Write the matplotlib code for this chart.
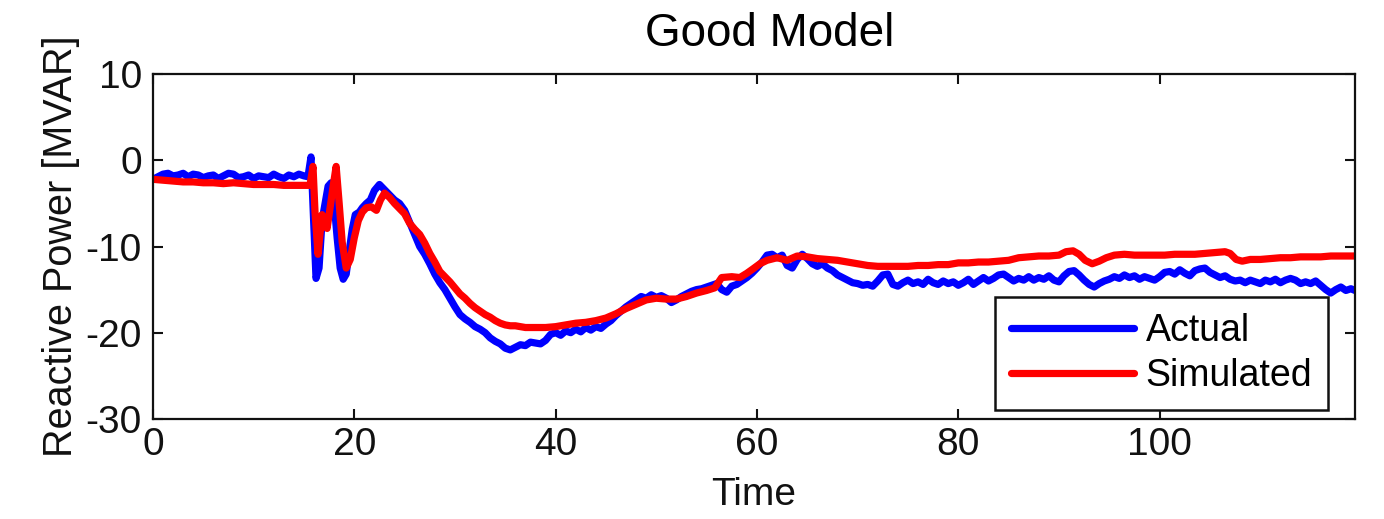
import numpy as np
import matplotlib
matplotlib.use("Agg")
import matplotlib.pyplot as plt

# Actual (measured) reactive power
t_actual = [0, 0.5, 1, 1.5, 2, 2.5, 3, 3.5, 4, 4.5, 5, 5.5, 6, 6.5, 7, 7.5, 8, 8.5, 9, 9.5,
            10, 10.5, 11, 11.5, 12, 12.5, 13, 13.5, 14, 14.5, 15, 15.4,
            15.7, 16.0, 16.2, 16.5, 16.8, 17.1, 17.4, 17.7, 18.0, 18.3, 18.6, 18.9, 19.2, 19.5, 19.8,
            20.1, 20.5, 20.8, 21.2, 21.6, 22.0, 22.5, 23.0, 23.5, 24.0, 24.5, 25.0, 25.5, 26.0, 26.5,
            27.0, 27.5, 28.0, 28.5, 29.0, 29.5, 30.0, 30.5, 31.0, 31.5, 32.0, 32.5, 33.0, 33.5, 34.0,
            34.5, 35.0, 35.5, 36.0, 36.5, 37.0, 37.5, 38.0, 38.5, 39.0, 39.5, 40.0, 40.5, 41.0, 41.5,
            42.0, 42.5, 43.0, 43.5, 44.0, 44.5, 45.0, 45.5, 46.0, 46.5, 47.0, 47.5, 48.0, 48.5, 49.0,
            49.5, 50.0, 50.5, 51.0, 51.5, 52.0, 52.5, 53.0, 53.5, 54.0, 54.5, 55.0, 55.5, 56.0, 56.5,
            57.0, 57.5, 58.0, 58.5, 59.0, 59.5, 60.0, 60.5, 61.0, 61.5, 62.0, 62.5, 63.0, 63.5, 64.0,
            64.5, 65.0, 65.5, 66.0, 66.5, 67.0, 67.5, 68.0, 68.5, 69.0, 69.5, 70.0, 70.5, 71.0, 71.5,
            72.0, 72.5, 73.0, 73.5, 74.0, 74.5, 75.0, 75.5, 76.0, 76.5, 77.0, 77.5, 78.0, 78.5, 79.0,
            79.5, 80.0, 80.5, 81.0, 81.5, 82.0, 82.5, 83.0, 83.5, 84.0, 84.5, 85.0, 85.5, 86.0, 86.5,
            87.0, 87.5, 88.0, 88.5, 89.0, 89.5, 90.0, 90.5, 91.0, 91.5, 92.0, 92.5, 93.0, 93.5, 94.0,
            94.5, 95.0, 95.5, 96.0, 96.5, 97.0, 97.5, 98.0, 98.5, 99.0, 99.5, 100.0, 100.5, 101.0,
            101.5, 102.0, 102.5, 103.0, 103.5, 104.0, 104.5, 105.0, 105.5, 106.0, 106.5, 107.0, 107.5,
            108.0, 108.5, 109.0, 109.5, 110.0, 110.5, 111.0, 111.5, 112.0, 112.5, 113.0, 113.5, 114.0,
            114.5, 115.0, 115.5, 116.0, 116.5, 117.0, 117.5, 118.0, 118.5, 119.0, 119.4]
q_actual = [-2.2, -1.9, -1.6, -1.5, -1.8, -1.7, -1.5, -1.9, -1.6, -1.7, -2.0, -1.8, -1.7, -2.1, -1.8,
            -1.5, -1.6, -2.0, -1.9, -1.7, -2.1, -1.8, -1.9, -2.0, -1.6, -1.9, -2.1, -1.7, -1.9, -1.6,
            -1.8, -1.9,
            0.4, -8.0, -13.7, -12.5, -7.0, -5.0, -3.0, -2.6, -5.0, -9.0, -12.5, -13.8, -13.2, -10.5, -8.0,
            -6.3, -6.0, -5.5, -5.0, -4.6, -3.5, -2.8, -3.4, -4.0, -4.6, -5.0, -5.8, -7.2, -8.6, -10.0,
            -10.9, -12.0, -13.2, -14.2, -15.0, -16.0, -17.0, -17.9, -18.4, -18.8, -19.3, -19.6, -20.0,
            -20.6, -21.0, -21.3, -21.8, -22.0, -21.7, -21.4, -21.5, -21.1, -21.2, -21.3, -20.9, -20.2,
            -20.0, -20.3, -19.8, -20.0, -19.6, -19.9, -19.4, -19.7, -19.3, -19.5, -19.0, -18.6, -18.0,
            -17.5, -17.0, -16.6, -16.2, -15.8, -16.0, -15.6, -15.9, -15.7, -16.0, -16.5, -16.2, -15.8,
            -15.5, -15.2, -15.0, -14.9, -14.7, -14.5, -14.3, -15.0, -15.3, -14.6, -14.4, -14.0, -13.6,
            -13.1, -12.5, -11.8, -11.0, -10.9, -11.3, -11.0, -12.2, -12.5, -11.5, -10.9, -11.4, -12.0,
            -12.3, -12.0, -12.5, -12.8, -13.3, -13.6, -13.9, -14.2, -14.3, -14.5, -14.4, -14.6, -14.0,
            -13.3, -13.2, -14.4, -14.6, -14.2, -13.9, -14.3, -14.1, -14.4, -13.8, -14.2, -14.4, -14.0,
            -14.3, -14.1, -14.5, -14.2, -13.8, -14.4, -14.0, -13.6, -14.0, -13.7, -13.3, -13.2, -13.6,
            -14.0, -13.7, -13.9, -13.5, -13.9, -13.6, -13.8, -13.4, -13.9, -14.1, -13.4, -12.9, -12.8,
            -13.3, -13.9, -14.4, -14.7, -14.3, -14.0, -13.8, -13.5, -13.7, -13.3, -13.6, -13.4, -13.8,
            -13.5, -13.7, -13.9, -13.5, -13.0, -12.9, -13.2, -12.7, -13.1, -13.4, -12.8, -12.6, -12.5,
            -13.0, -13.3, -13.6, -13.4, -13.8, -14.0, -13.9, -14.2, -13.9, -14.1, -14.3, -13.9, -14.1,
            -13.8, -14.2, -13.9, -13.7, -13.9, -14.3, -14.1, -14.3, -14.0, -14.5, -15.0, -15.4, -15.0,
            -14.7, -15.1, -14.9, -15.1]

# Simulated reactive power
t_sim = [0, 1, 2, 3, 4, 5, 6, 7, 8, 9, 10, 11, 12, 13, 14, 15, 15.6,
         15.9, 16.1, 16.4, 16.6, 16.8, 17.1, 17.3, 17.6, 17.9, 18.2, 18.5, 18.8, 19.2, 19.6,
         20.0, 20.4, 20.8, 21.2, 21.7, 22.2, 22.6, 23.0, 23.5, 24.0, 24.5, 25.0, 25.5, 26.0,
         26.5, 27.0, 27.5, 28.0, 28.5, 29.0, 29.5, 30.0, 30.5, 31.0, 31.5, 32.0, 32.5, 33.0,
         33.5, 34.0, 34.5, 35.0, 35.5, 36.0, 37.0, 38.0, 39.0, 40.0, 41.0, 42.0, 43.0, 44.0,
         45.0, 46.0, 47.0, 48.0, 49.0, 50.0, 51.0, 52.0, 53.0, 54.0, 55.0, 55.8, 56.5, 57.5,
         58.3, 59.0, 59.6, 60.3, 61.0, 62.0, 63.0, 64.0, 65.0, 66.0, 67.0, 68.0, 69.0, 70.0,
         71.0, 72.0, 73.0, 74.0, 75.0, 76.0, 77.0, 78.0, 79.0, 80.0, 81.0, 82.0, 83.0, 84.0,
         85.0, 86.0, 87.0, 88.0, 89.0, 90.0, 90.7, 91.4, 92.0, 92.6, 93.3, 94.0, 94.7, 95.5,
         96.5, 97.5, 98.5, 99.5, 100.5, 101.5, 102.5, 103.5, 104.5, 105.5, 106.5, 107.0, 107.6,
         108.2, 109.0, 110.0, 111.0, 112.0, 113.0, 114.0, 115.0, 116.0, 117.0, 118.0, 119.4]
q_sim = [-2.2, -2.3, -2.4, -2.5, -2.5, -2.6, -2.6, -2.7, -2.6, -2.7, -2.8, -2.8, -2.8, -2.9, -2.9,
         -2.9, -2.9,
         -0.7, -6.0, -10.9, -8.5, -6.3, -7.0, -7.9, -5.5, -3.0, -0.7, -5.0, -9.5, -12.5, -11.5,
         -9.0, -7.0, -6.0, -5.5, -5.4, -5.8, -4.6, -3.8, -4.3, -5.0, -5.6, -6.2, -7.3, -8.0,
         -8.6, -9.6, -10.8, -11.8, -12.9, -13.5, -14.1, -14.8, -15.5, -16.0, -16.6, -17.1, -17.5,
         -17.9, -18.2, -18.6, -18.9, -19.1, -19.2, -19.2, -19.4, -19.4, -19.4, -19.3, -19.1, -18.9,
         -18.8, -18.6, -18.3, -17.8, -17.2, -16.7, -16.2, -16.0, -16.1, -16.1, -15.8, -15.4, -15.1,
         -14.8, -13.6, -13.5, -13.6, -13.1, -12.6, -12.0, -11.6, -11.3, -11.6, -11.1, -11.2, -11.4,
         -11.5, -11.6, -11.8, -12.0, -12.2, -12.3, -12.3, -12.3, -12.3, -12.2, -12.2, -12.1, -12.1,
         -11.9, -11.9, -11.8, -11.8, -11.7, -11.6, -11.3, -11.2, -11.1, -11.1, -11.0, -10.6, -10.5,
         -10.9, -11.6, -12.0, -11.7, -11.3, -11.0, -10.9, -11.0, -11.0, -11.0, -11.0, -10.9, -10.9,
         -10.9, -10.8, -10.7, -10.6, -10.8, -11.5, -11.7, -11.5, -11.5, -11.4, -11.3, -11.3, -11.2,
         -11.2, -11.2, -11.1, -11.1, -11.1]

x_ticks = [0, 20, 40, 60, 80, 100]
y_ticks = [-30, -20, -10, 0, 10]

plt.rcParams['font.family'] = ['Liberation Sans', 'DejaVu Sans']
plt.rcParams['axes.unicode_minus'] = False

fig = plt.figure(figsize=(13.84, 5.19), dpi=100)
ax = fig.add_axes([0.1105, 0.193, 0.8685, 0.664])

ax.plot(t_actual, q_actual, color='#0000ff', linewidth=5.2, label='Actual',
        solid_joinstyle='round', solid_capstyle='round')
ax.plot(t_sim, q_sim, color='#ff0000', linewidth=5.2, label='Simulated',
        solid_joinstyle='round', solid_capstyle='round')

ax.set_xlim(0, 119.4)
ax.set_ylim(-30, 10)
ax.set_xticks(x_ticks)
ax.set_yticks(y_ticks)
ax.tick_params(direction='in', length=7, width=1.5, top=True, right=True,
               labelsize=28, colors='#111111')
ax.tick_params(axis='x', pad=6)
ax.tick_params(axis='y', pad=8)
for s in ax.spines.values():
    s.set_linewidth(1.6)
    s.set_color('#111111')

ax.set_title('Good Model', fontsize=33, pad=20, color='#000000', x=0.513)
ax.set_xlabel('Time', fontsize=28, color='#111111', labelpad=10)
ax.set_ylabel('Reactive Power [MVAR]', fontsize=28.5, color='#111111', labelpad=4)

leg = ax.legend(loc='lower right', fontsize=27, handlelength=3.3, frameon=True,
                fancybox=False, framealpha=1, borderaxespad=0, borderpad=0.42,
                labelspacing=0.25, handletextpad=0.3, bbox_to_anchor=(0.9775, 0.026))
leg.get_frame().set_edgecolor('#111111')
leg.get_frame().set_linewidth(1.8)

fig.savefig('out.png', dpi=100)
